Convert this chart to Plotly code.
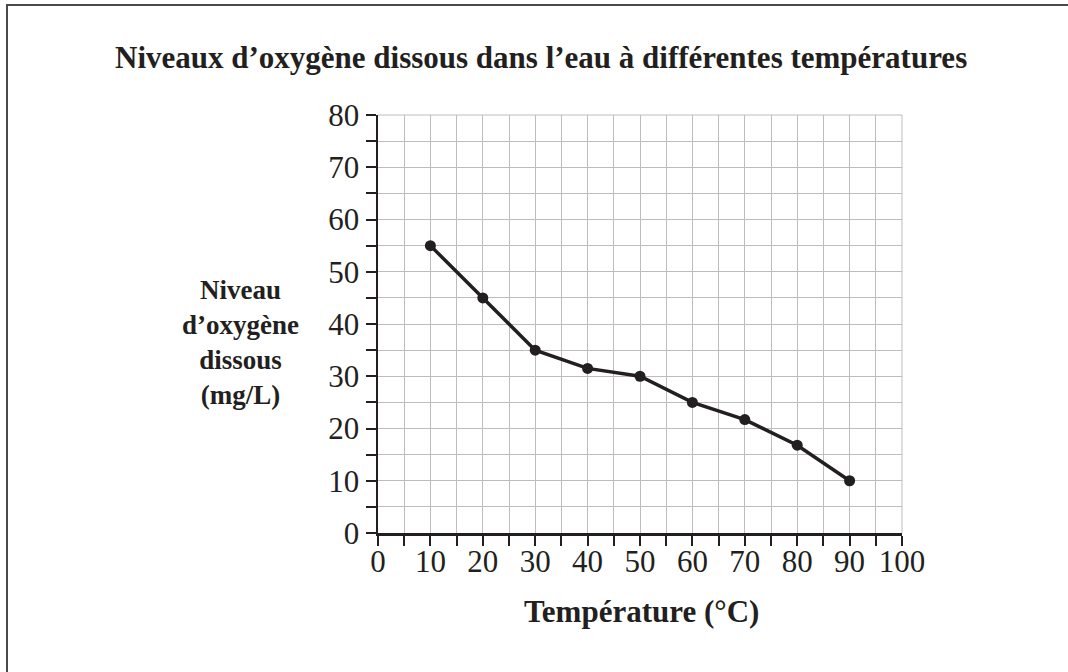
import plotly.graph_objects as go

temperature = [10, 20, 30, 40, 50, 60, 70, 80, 90]
oxygen = [55, 45, 35, 31.5, 30, 25, 21.7, 16.8, 10]
x_ticks = [0, 10, 20, 30, 40, 50, 60, 70, 80, 90, 100]
y_ticks = [0, 10, 20, 30, 40, 50, 60, 70, 80]

title_text = "Niveaux d’oxygène dissous dans l’eau à différentes températures"
x_title = "Température (°C)"
y_title_lines = ["Niveau", "d’oxygène", "dissous", "(mg/L)"]

ink = "#231f20"
grid = "#bdbdbd"
serif = "Liberation Serif, Times New Roman, serif"

fig = go.Figure()
fig.add_trace(go.Scatter(
    x=temperature, y=oxygen, mode="lines+markers",
    line=dict(color=ink, width=3.5),
    marker=dict(color=ink, size=11),
    showlegend=False, cliponaxis=False,
))

W, H = 1068, 672
L, R, T, B = 378, 166, 115, 139
pw, ph = W - L - R, H - T - B

def px(x):
    return (x - L) / pw

def py(y):
    return (H - B - y) / ph

annotations = [
    dict(text="<b>" + title_text + "</b>", xref="paper", yref="paper",
         x=px(541), y=py(57), showarrow=False, xanchor="center", yanchor="middle",
         font=dict(size=31, family=serif, color=ink)),
    dict(text="<b>" + x_title + "</b>", xref="paper", yref="paper",
         x=px(641), y=py(611), showarrow=False, xanchor="center", yanchor="middle",
         font=dict(size=31, family=serif, color=ink)),
    dict(text="<b>" + "<br>".join(y_title_lines) + "</b>", xref="paper", yref="paper",
         x=px(240), y=py(342), showarrow=False, xanchor="center", yanchor="middle",
         align="center", font=dict(size=27, family=serif, color=ink)),
]

axis_common = dict(
    showgrid=True, gridcolor=grid, gridwidth=1,
    ticks="outside", ticklen=10, tickcolor=ink, tickwidth=2,
    showline=True, linecolor=ink, linewidth=2.5,
    tickfont=dict(size=31, family=serif, color=ink),
    zeroline=False, fixedrange=True,
    minor=dict(dtick=5, showgrid=True, gridcolor=grid, gridwidth=1,
               ticks="outside", ticklen=10, tickcolor=ink, tickwidth=2),
)

fig.update_layout(
    width=W, height=H,
    margin=dict(l=L, r=R, t=T, b=B),
    paper_bgcolor="white", plot_bgcolor="white",
    font=dict(family=serif, color=ink),
    xaxis=dict(range=[0, 100], tickvals=x_ticks, ticktext=[str(v) for v in x_ticks],
               ticklabelstandoff=-11, **axis_common),
    yaxis=dict(range=[0, 80], tickvals=y_ticks, ticktext=[str(v) for v in y_ticks],
               **axis_common),
    shapes=[
        dict(type="line", xref="paper", yref="paper", x0=0, x1=1, y0=1, y1=1,
             line=dict(color=grid, width=1), layer="below"),
        dict(type="line", xref="paper", yref="paper", x0=1, x1=1, y0=0, y1=1,
             line=dict(color=grid, width=1), layer="below"),
        dict(type="line", xref="paper", yref="paper", x0=px(6), x1=px(W + 5),
             y0=py(5), y1=py(5), line=dict(color="#4a4a4a", width=2)),
        dict(type="line", xref="paper", yref="paper", x0=px(7), x1=px(7),
             y0=py(4), y1=py(H + 5), line=dict(color="#4a4a4a", width=2)),
    ],
    annotations=annotations,
)

fig.write_html(
    "out.html",
    config={"displayModeBar": False, "staticPlot": True},
    post_script="document.body.style.margin='0';document.body.style.overflow='hidden';",
)
